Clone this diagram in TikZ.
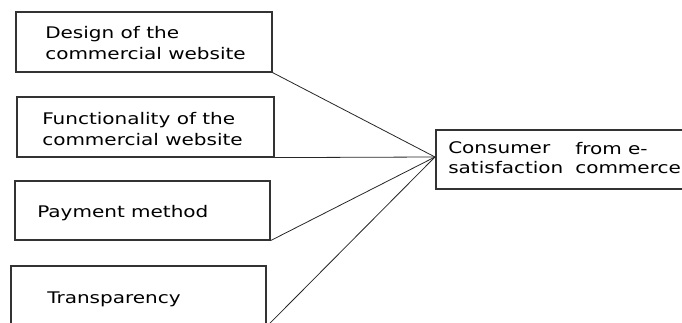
\documentclass[tikz,border=0pt]{standalone}
\usepackage{fontspec}
\setmainfont{DejaVu Sans}[FakeStretch=1.25]
\begin{document}
\begin{tikzpicture}[
  x=0.75pt, y=-0.75pt,
  factor/.style={draw=black!80, line width=0.9pt, minimum width=#1, minimum height=45pt, inner sep=0pt},
  lbl/.style={font=\fontsize{12}{15.75}\selectfont, align=left, inner sep=0pt},
  link/.style={draw=black!85, line width=0.6pt}
]
\useasboundingbox (0,0) rectangle (682,323);
\clip (0,0) rectangle (682,323);
% factor boxes
\node[factor=192pt] (design) at (144,42) {};
\node[factor=192.75pt] (func) at (145.5,127) {};
\node[factor=191.25pt, minimum height=44.25pt] (pay) at (142.5,210.5) {};
\node[factor=191.25pt] (transp) at (138.5,296) {};
\node[lbl, anchor=west] (designtxt) at (45,42.7) {Design of the\\commercial website};
\node[lbl, anchor=west] (functxt) at (42,128.9) {Functionality of the\\commercial website};
\node[lbl, anchor=base west] (paytxt) at (37,217.3) {Payment method};
\node[lbl, anchor=base west] (transptxt) at (47,303.3) {Transparency};
% outcome box
\node[factor=195pt, minimum height=44.25pt] (sat) at (566,159.5) {};
\node[lbl, anchor=base west] (sat1) at (448,153.5) {Consumer};
\node[lbl, anchor=base west] (sat2) at (448,173.3) {satisfaction};
\node[lbl, anchor=base west] (sat3) at (575,155) {from e-};
\node[lbl, anchor=base west] (sat4) at (575,173.3) {commerce};
\coordinate (hub) at (435,157);
\foreach \b in {design,func,pay,transp}
  \draw[link] (\b.south east) -- (hub);
\end{tikzpicture}
\end{document}
